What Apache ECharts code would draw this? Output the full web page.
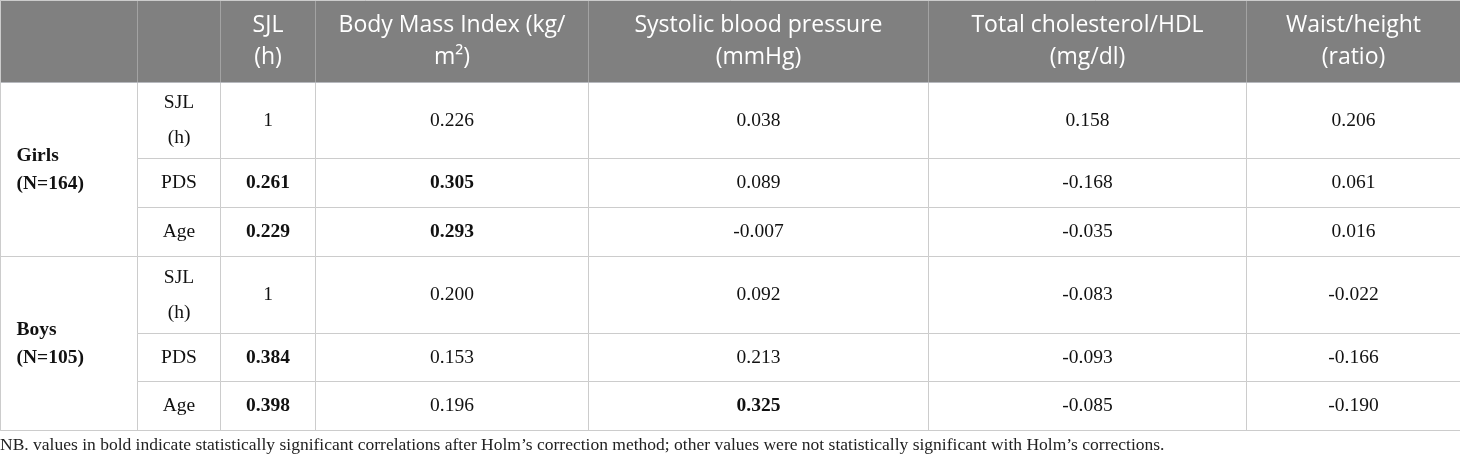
<!DOCTYPE html>
<html>
<head>
<meta charset="utf-8">
<style>html,body{margin:0;padding:0;background:#fff;}#main{width:1460px;height:461px;}</style>
<script src="https://cdn.jsdelivr.net/npm/echarts@6.0.0/dist/echarts.min.js"></script>
</head>
<body>
<div id="main"></div>
<script>
// ---- data ----
var columns = ['SJL\n(h)', 'Body Mass Index (kg/\nm²)', 'Systolic blood pressure\n(mmHg)', 'Total cholesterol/HDL\n(mg/dl)', 'Waist/height\n(ratio)'];
var groups = ['Girls\n(N=164)', 'Boys\n(N=105)'];
var rowLabels = ['SJL\n(h)', 'PDS', 'Age'];
var girls = [
  [1, 0.226, 0.038, 0.158, 0.206],
  [0.261, 0.305, 0.089, -0.168, 0.061],
  [0.229, 0.293, -0.007, -0.035, 0.016]
];
var boys = [
  [1, 0.200, 0.092, -0.083, -0.022],
  [0.384, 0.153, 0.213, -0.093, -0.166],
  [0.398, 0.196, 0.325, -0.085, -0.190]
];
var girlsSig = [
  [0, 0, 0, 0, 0],
  [1, 1, 0, 0, 0],
  [1, 1, 0, 0, 0]
];
var boysSig = [
  [0, 0, 0, 0, 0],
  [1, 0, 0, 0, 0],
  [1, 0, 1, 0, 0]
];
var footnote = 'NB. values in bold indicate statistically significant correlations after Holm\u2019s correction method; other values were not statistically significant with Holm\u2019s corrections.';

// ---- layout ----
var colSizes = [137, 83, 95, 273, 340, 318, 214];
var rowSizes = [76, 49, 49, 77, 48, 49];

var xData = [{ value: ' ', size: colSizes[0] }, { value: '  ', size: colSizes[1] }];
columns.forEach(function (c, i) { xData.push({ value: c, size: colSizes[i + 2] }); });
var yData = [];
for (var r = 0; r < rowSizes.length; r++) yData.push({ value: 'r' + r, size: rowSizes[r] });

function fmt(v) { return v === 1 ? '1' : v.toFixed(3); }

var serif = 'Liberation Serif';
var cells = [];
var groupData = [girls, boys];
var groupSig = [girlsSig, boysSig];
groupData.forEach(function (g, gi) {
  var base = gi * 3;
  cells.push({
    coord: [0, [base, base + 2]],
    mergeCells: true,
    value: groups[gi],
    label: { align: 'left', padding: [4, 0, 0, 16], fontWeight: 'bold', lineHeight: 28, position: 'insideLeft' }
  });
  g.forEach(function (row, ri) {
    cells.push({
      coord: [1, base + ri],
      value: rowLabels[ri],
      label: { lineHeight: 35 }
    });
    row.forEach(function (v, ci) {
      cells.push({
        coord: [ci + 2, base + ri],
        value: fmt(v),
        label: { fontWeight: groupSig[gi][ri][ci] ? 'bold' : 'normal' }
      });
    });
  });
});

var chart = echarts.init(document.getElementById('main'));
chart.setOption({
  animation: false,
  title: {
    text: footnote,
    left: 0,
    top: 436,
    padding: 0,
    textStyle: { fontFamily: serif, fontSize: 17.5, fontWeight: 'normal', color: '#222' }
  },
  matrix: {
    left: 0,
    top: 0,
    width: 1460,
    height: 430,
    x: {
      data: xData,
      levelSize: 82,
      itemStyle: { color: '#808080', borderColor: '#a3a3a3', borderWidth: 1 },
      label: { color: '#ffffff', fontSize: 23, fontFamily: 'Open Sans', lineHeight: 32 }
    },
    y: {
      show: false,
      data: yData
    },
    body: {
      data: cells,
      itemStyle: { color: '#ffffff', borderColor: '#cccccc', borderWidth: 1 },
      label: { color: '#111111', fontSize: 19.5, fontFamily: serif }
    },
    backgroundStyle: { color: '#ffffff', borderColor: '#cccccc', borderWidth: 1 }
  }
});
</script>
</body>
</html>
